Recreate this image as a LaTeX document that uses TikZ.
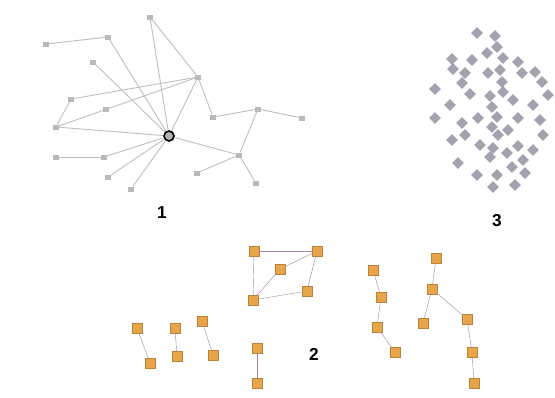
\documentclass[tikz,border=0pt]{standalone}
\usepackage{fontspec}
\setsansfont{Liberation Sans}
\usetikzlibrary{shapes.geometric}
\definecolor{boxorange}{HTML}{E8A449}
\definecolor{clustergray}{HTML}{8F8B9B}
\tikzset{
  lbl/.style={inner sep=0pt,minimum width=6pt,minimum height=5pt,fill=gray!55},
  hub/.style={circle,draw=black,line width=1.6pt,fill=gray!60,minimum size=10pt,inner sep=0pt},
  tie/.style={gray!50,line width=0.9pt},
  sq/.style={rectangle,fill=boxorange,draw=boxorange!80!black,thin,minimum size=10pt,inner sep=0pt},
  link/.style={gray!60!violet!70,thin},
  dot/.style={diamond,fill=clustergray,minimum size=12pt,inner sep=0pt,opacity=0.8},
  num/.style={font=\sffamily\bfseries\LARGE}
}
\begin{document}
\begin{tikzpicture}[x=1pt,y=-1pt]
\useasboundingbox (0,0) rectangle (555,397);
\fill[white] (0,0) rectangle (555,397);

% Graph 1: star around a hub
\node[hub] (hb) at (169,136) {};
\foreach \n/\x/\y in {a/46/44,b/108/37,c/150/17,d/93/62,e/198/77,f/71/99,g/106/109,h/56/127,
  i/213/117,j/258/109,k/302/118,l/239/155,m/197/173,n/256/183,o/56/157,p/104/157,q/108/177,r/131/189}
  \node[lbl] (\n) at (\x,\y) {};
\foreach \u/\v in {a/b,b/hb,c/hb,c/e,d/hb,e/f,e/h,e/hb,e/i,f/h,h/hb,i/j,j/k,j/l,hb/l,l/m,l/n,o/p,p/hb,q/hb,r/hb}
  \draw[tie] (\u) -- (\v);
\node[num] (one) at (162,213) {1};

% Graph 3: dense cluster
\foreach \x/\y [count=\i] in {477/33,495/36,487/53,497/47,452/59,472/60,503/58,518/62,453/69,465/73,
  488/73,500/70,522/73,535/72,462/83,502/82,542/82,435/89,470/94,490/96,503/92,548/95,450/105,
  492/107,513/100,533/105,435/118,462/123,478/118,497/117,518/118,540/120,492/127,508/130,
  465/135,498/135,543/135,452/140,480/145,493/148,518/146,533/150,507/153,490/157,458/163,
  523/160,512/167,477/175,497/175,525/173,493/187,515/185}
  \node[dot] (c\i) at (\x,\y) {};
\node[num] (three) at (497,221) {3};

% Graph 2: small components
\foreach \n/\x/\y in {a1/254/251,a2/317/251,a3/280/269,a4/307/291,a5/253/300,
  b1/137/328,b2/150/363,c1/175/328,c2/177/356,d1/202/321,d2/213/355,e1/257/348,e2/257/383,
  f1/373/270,f2/381/297,f3/377/327,f4/395/352,
  g1/436/258,g2/432/289,g3/423/323,g4/467/319,g5/472/352,g6/474/383}
  \node[sq] (\n) at (\x,\y) {};
\foreach \u/\v in {a1/a2,a1/a5,a3/a5,a3/a2,a2/a4,a4/a5,b1/b2,c1/c2,d1/d2,e1/e2,
  f1/f2,f2/f3,f3/f4,g1/g2,g2/g3,g2/g4,g4/g5,g5/g6}
  \draw[link] (\u) -- (\v);
\node[num] (two) at (314,354) {2};
\end{tikzpicture}
\end{document}
